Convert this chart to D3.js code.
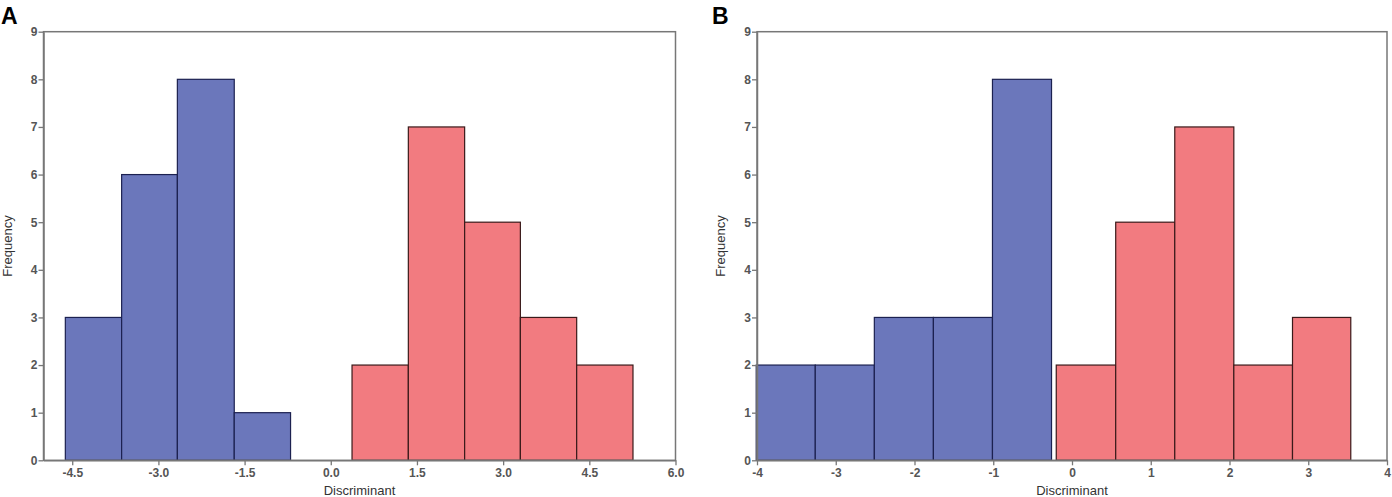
<!DOCTYPE html>
<html><head><meta charset="utf-8">
<script src="https://cdn.jsdelivr.net/npm/d3@7/dist/d3.min.js"></script>
<style>body{margin:0;background:#fff}svg{display:block}</style>
</head><body>
<svg id="c" width="1392" height="497"></svg>
<script>
// Panel A data
const aBlueEdges = [-4.62, -3.64, -2.67, -1.68, -0.70];
const aBlueCounts = [3, 6, 8, 1];
const aRedEdges = [0.37, 1.35, 2.33, 3.30, 4.28, 5.26];
const aRedCounts = [2, 7, 5, 3, 2];
const aXTicks = [-4.5, -3.0, -1.5, 0.0, 1.5, 3.0, 4.5, 6.0];
// Panel B data
const bBlueEdges = [-4.01, -3.26, -2.51, -1.76, -1.01, -0.26];
const bBlueCounts = [2, 2, 3, 3, 8];
const bRedEdges = [-0.20, 0.555, 1.305, 2.055, 2.80, 3.54];
const bRedCounts = [2, 5, 7, 2, 3];
const bXTicks = [-4, -3, -2, -1, 0, 1, 2, 3, 4];
const yTicks = [0, 1, 2, 3, 4, 5, 6, 7, 8, 9];

const svg = d3.select('#c');
const plotTop = 31.7, plotBottom = 460.3;
const y = d3.scaleLinear().domain([0, 9]).range([plotBottom, plotTop]);
const hy = f => d => f(d).replace('\u2212', '-');

function panel(letter, letterX, x0, x1, domain, fmt, ticks, series) {
  const x = d3.scaleLinear().domain(domain).range([x0, x1]);
  const g = svg.append('g');
  series.forEach(s => {
    const bins = s.counts.map((c, i) => ({x0: s.edges[i], x1: s.edges[i + 1], c}));
    g.selectAll(null).data(bins).enter().append('rect')
      .attr('x', d => x(d.x0)).attr('width', d => x(d.x1) - x(d.x0))
      .attr('y', d => y(d.c)).attr('height', d => y(0) - y(d.c))
      .attr('fill', s.fill).attr('stroke', s.stroke).attr('stroke-width', 1.2);
  });
  g.append('rect').attr('x', x0).attr('y', plotTop).attr('width', x1 - x0).attr('height', plotBottom - plotTop)
    .attr('fill', 'none').attr('stroke', '#777').attr('stroke-width', 1.5);
  const xa = g.append('g').attr('transform', `translate(0,${plotBottom})`)
    .call(d3.axisBottom(x).tickValues(ticks).tickFormat(hy(fmt)).tickSize(5).tickSizeOuter(0));
  const ya = g.append('g').attr('transform', `translate(${x0},0)`)
    .call(d3.axisLeft(y).tickValues(yTicks).tickFormat(d3.format('d')).tickSize(5).tickSizeOuter(0));
  [xa, ya].forEach(a => {
    a.select('.domain').attr('stroke', '#777').attr('stroke-width', 1.5);
    a.selectAll('.tick line').attr('stroke', '#777').attr('stroke-width', 1.3);
    a.selectAll('.tick text').attr('fill', '#555').style('font-family', 'Liberation Sans, Arial, sans-serif')
      .style('font-size', '12px').style('font-weight', 'bold');
  });
  ya.selectAll('.tick text').attr('x', -6);
  g.append('text').attr('x', (x0 + x1) / 2).attr('y', 495).attr('text-anchor', 'middle')
    .style('font-family', 'Liberation Sans, Arial, sans-serif').style('font-size', '13px').attr('fill', '#333')
    .text('Discriminant');
  g.append('text').attr('transform', `translate(${x0 - 32},${(plotTop + plotBottom) / 2}) rotate(-90)`)
    .attr('text-anchor', 'middle')
    .style('font-family', 'Liberation Sans, Arial, sans-serif').style('font-size', '13px').attr('fill', '#333')
    .text('Frequency');
  g.append('text').attr('x', letterX).attr('y', 24)
    .style('font-family', 'Liberation Sans, Arial, sans-serif').style('font-size', '23px').style('font-weight', 'bold')
    .attr('fill', '#000').text(letter);
}

const blue = {fill: '#6b77bb', stroke: '#1c2150'};
const red = {fill: '#f27b80', stroke: '#3a1a1a'};

panel('A', 1, 43.5, 675.5, [-5, 6], d3.format('.1f'), aXTicks,
  [{edges: aBlueEdges, counts: aBlueCounts, ...blue}, {edges: aRedEdges, counts: aRedCounts, ...red}]);
panel('B', 712, 757, 1387, [-4, 4], d3.format('d'), bXTicks,
  [{edges: bBlueEdges, counts: bBlueCounts, ...blue}, {edges: bRedEdges, counts: bRedCounts, ...red}]);
</script>
</body></html>
